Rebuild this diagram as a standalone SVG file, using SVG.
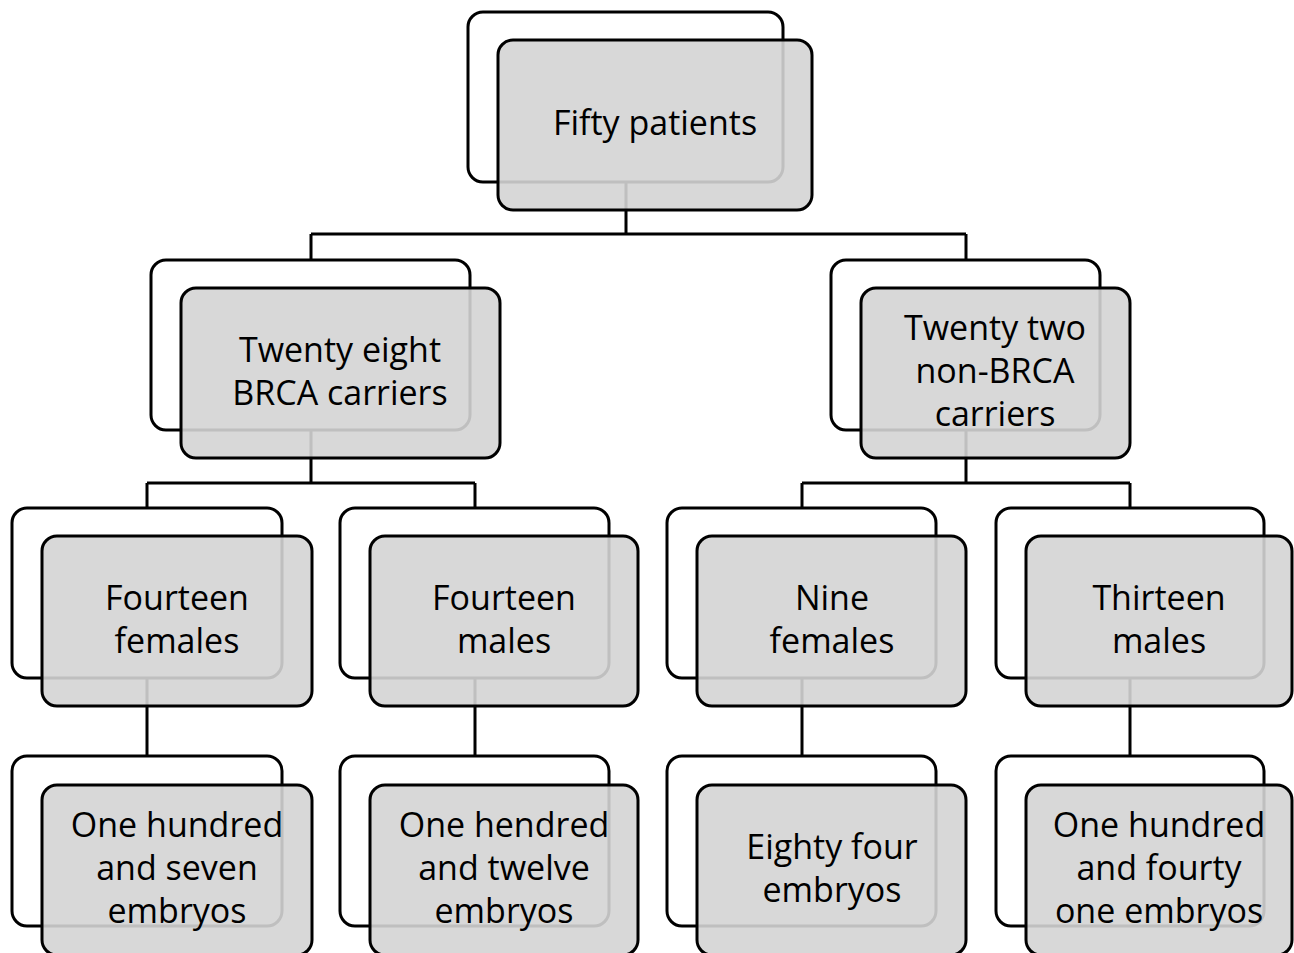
<svg xmlns="http://www.w3.org/2000/svg" width="1294" height="953" viewBox="0 0 1294 953">
<style>
.back{fill:#ffffff;stroke:#000;stroke-width:3}
.front{fill:#d4d4d4;fill-opacity:0.9;stroke:#000;stroke-width:3}
.conn{fill:none;stroke:#000;stroke-width:3}
text{font-family:"Open Sans","Liberation Sans",sans-serif;font-size:34px;fill:#000;text-anchor:middle}
</style>
<rect width="1294" height="953" fill="#ffffff"/>
<g id="back-layer">
<rect class="back" x="468" y="12" width="315" height="170" rx="15"/>
<rect class="back" x="151" y="260" width="319" height="170" rx="15"/>
<rect class="back" x="831" y="260" width="269" height="170" rx="15"/>
<rect class="back" x="12" y="508" width="270" height="170" rx="15"/>
<rect class="back" x="340" y="508" width="269" height="170" rx="15"/>
<rect class="back" x="667" y="508" width="269" height="170" rx="15"/>
<rect class="back" x="996" y="508" width="268" height="170" rx="15"/>
<rect class="back" x="12" y="756" width="270" height="170" rx="15"/>
<rect class="back" x="340" y="756" width="269" height="170" rx="15"/>
<rect class="back" x="667" y="756" width="269" height="170" rx="15"/>
<rect class="back" x="996" y="756" width="268" height="170" rx="15"/>
</g>
<g id="connectors">
<path class="conn" d="M626 182V234M311 234H966M311 234V260M966 234V260"/>
<path class="conn" d="M311 430V483M147 483H475M147 483V508M475 483V508"/>
<path class="conn" d="M966 430V483M802 483H1130M802 483V508M1130 483V508"/>
<path class="conn" d="M147 678V756M475 678V756M802 678V756M1130 678V756"/>
</g>
<g id="n-fifty">
<rect class="front" x="498" y="40" width="314" height="170" rx="15"/>
<text x="655" y="135">Fifty patients</text>
</g>
<g id="n-brca">
<rect class="front" x="181" y="288" width="319" height="170" rx="15"/>
<text x="340" y="362">Twenty eight</text>
<text x="340" y="405">BRCA carriers</text>
</g>
<g id="n-nonbrca">
<rect class="front" x="861" y="288" width="269" height="170" rx="15"/>
<text x="995" y="340">Twenty two</text>
<text x="995" y="383">non-BRCA</text>
<text x="995" y="426">carriers</text>
</g>
<g id="n-brca-f">
<rect class="front" x="42" y="536" width="270" height="170" rx="15"/>
<text x="177" y="610">Fourteen</text>
<text x="177" y="653">females</text>
</g>
<g id="n-brca-m">
<rect class="front" x="370" y="536" width="268" height="170" rx="15"/>
<text x="504" y="610">Fourteen</text>
<text x="504" y="653">males</text>
</g>
<g id="n-non-f">
<rect class="front" x="697" y="536" width="269" height="170" rx="15"/>
<text x="832" y="610">Nine</text>
<text x="832" y="653">females</text>
</g>
<g id="n-non-m">
<rect class="front" x="1026" y="536" width="266" height="170" rx="15"/>
<text x="1159" y="610">Thirteen</text>
<text x="1159" y="653">males</text>
</g>
<g id="e-brca-f">
<rect class="front" x="42" y="785" width="270" height="170" rx="15"/>
<text x="177" y="837">One hundred</text>
<text x="177" y="880">and seven</text>
<text x="177" y="923">embryos</text>
</g>
<g id="e-brca-m">
<rect class="front" x="370" y="785" width="268" height="170" rx="15"/>
<text x="504" y="837">One hendred</text>
<text x="504" y="880">and twelve</text>
<text x="504" y="923">embryos</text>
</g>
<g id="e-non-f">
<rect class="front" x="697" y="785" width="269" height="170" rx="15"/>
<text x="832" y="859">Eighty four</text>
<text x="832" y="902">embryos</text>
</g>
<g id="e-non-m">
<rect class="front" x="1026" y="785" width="266" height="170" rx="15"/>
<text x="1159" y="837">One hundred</text>
<text x="1159" y="880">and fourty</text>
<text x="1159" y="923">one embryos</text>
</g>
</svg>
